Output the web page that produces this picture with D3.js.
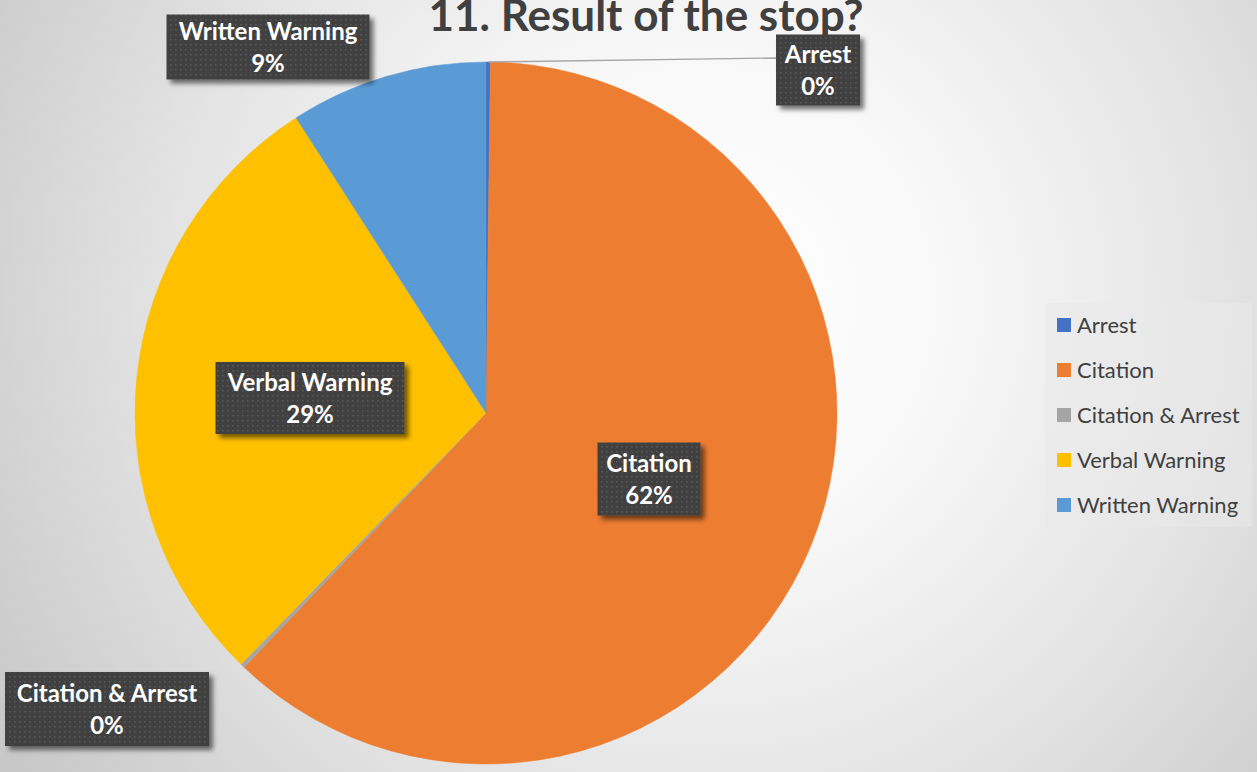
<!DOCTYPE html>
<html>
<head>
<meta charset="utf-8">
<script src="https://cdn.jsdelivr.net/npm/d3@7/dist/d3.min.js"></script>
<style>
  html, body { margin: 0; padding: 0; overflow: hidden; }
  svg { display: block; }
</style>
</head>
<body>
<svg id="chart" width="1257" height="772"></svg>
<script>
// Outcome shares of traffic stops (percent)
const categories = ["Arrest", "Citation", "Citation & Arrest", "Verbal Warning", "Written Warning"];
const shares = [0.2, 61.9, 0.2, 28.6, 9.1];
const colors = ["#4472C4", "#ED7D31", "#A5A5A5", "#FFC000", "#5B9BD5"];
const titleText = "11. Result of the stop?";

const W = 1257, H = 772;
const svg = d3.select("#chart");
const defs = svg.append("defs");

// Background: soft radial gradient
const bg = defs.append("radialGradient").attr("id", "bgGrad")
  .attr("gradientUnits", "userSpaceOnUse")
  .attr("cx", 700).attr("cy", 300).attr("r", 820);
[[0, "#ffffff"], [0.3, "#f8f8f8"], [0.65, "#e3e3e3"], [1, "#c8c8c8"]]
  .forEach(([o, c]) => bg.append("stop").attr("offset", o).attr("stop-color", c));
svg.append("rect").attr("width", W).attr("height", H).attr("fill", "url(#bgGrad)");

// Dotted dark fill for data labels
const pat = defs.append("pattern").attr("id", "dots")
  .attr("patternUnits", "userSpaceOnUse").attr("width", 5).attr("height", 5);
pat.append("rect").attr("width", 5).attr("height", 5).attr("fill", "#3f3f3f");
pat.append("rect").attr("x", 2).attr("y", 2).attr("width", 1.6).attr("height", 1.6).attr("fill", "#585858");

const shadow = defs.append("filter").attr("id", "shadow")
  .attr("x", "-20%").attr("y", "-20%").attr("width", "140%").attr("height", "160%");
shadow.append("feGaussianBlur").attr("in", "SourceAlpha").attr("stdDeviation", 2.5).attr("result", "b");
shadow.append("feOffset").attr("in", "b").attr("dx", 4).attr("dy", 4).attr("result", "o");
shadow.append("feComponentTransfer").attr("in", "o").attr("result", "s")
  .append("feFuncA").attr("type", "linear").attr("slope", 0.55);
const merge = shadow.append("feMerge");
merge.append("feMergeNode").attr("in", "s");
merge.append("feMergeNode").attr("in", "SourceGraphic");

// Title (sits high, running into the top edge)
svg.append("text")
  .attr("x", 646).attr("y", 31)
  .attr("text-anchor", "middle")
  .attr("font-family", "Lato, 'Open Sans', sans-serif")
  .attr("font-weight", "bold")
  .attr("font-size", 44)
  .attr("fill", "#404040")
  .text(titleText);

// Pie
const cx = 486, cy = 413, R = 351;
const data = categories.map((c, i) => ({ name: c, value: shares[i], color: colors[i] }));
const pie = d3.pie().value(d => d.value).sort(null);
const arcs = pie(data);
const arc = d3.arc().innerRadius(0).outerRadius(R);

const g = svg.append("g").attr("transform", `translate(${cx},${cy})`);
g.selectAll("path.slice").data(arcs).join("path")
  .attr("class", "slice")
  .attr("d", arc)
  .attr("fill", d => d.data.color)
  .attr("stroke", d => d.data.color)
  .attr("stroke-width", 0.5);

// Label box placement: centre x, centre y, width, height
const labelPos = {
  "Arrest": [818, 70, 84, 71],
  "Citation": [649, 479, 103, 73],
  "Citation & Arrest": [107, 709, 204, 74],
  "Verbal Warning": [310, 398, 189, 72],
  "Written Warning": [268, 47, 203, 65]
};

// Leader line for the thin Arrest slice
const arrestArc = arcs[0];
const midA = (arrestArc.startAngle + arrestArc.endAngle) / 2;
const ax = cx + R * Math.sin(midA), ay = cy - R * Math.cos(midA);
svg.append("line")
  .attr("x1", ax).attr("y1", ay)
  .attr("x2", labelPos["Arrest"][0] - labelPos["Arrest"][2] / 2).attr("y2", 58)
  .attr("stroke", "#a6a6a6").attr("stroke-width", 1.3);

const labels = svg.append("g").selectAll("g.lab").data(arcs).join("g")
  .attr("class", "lab")
  .attr("transform", d => {
    const p = labelPos[d.data.name];
    return `translate(${p[0]},${p[1]})`;
  });
labels.append("rect")
  .attr("x", d => -labelPos[d.data.name][2] / 2)
  .attr("y", d => -labelPos[d.data.name][3] / 2)
  .attr("width", d => labelPos[d.data.name][2])
  .attr("height", d => labelPos[d.data.name][3])
  .attr("fill", "url(#dots)")
  .attr("filter", "url(#shadow)");
const lt = labels.append("text")
  .attr("text-anchor", "middle")
  .attr("font-family", "Lato, 'Open Sans', sans-serif")
  .attr("font-weight", "bold")
  .attr("font-size", 24)
  .attr("fill", "#ffffff");
lt.append("tspan").attr("x", 0).attr("y", -7).text(d => d.data.name);
lt.append("tspan").attr("x", 0).attr("y", 25)
  .text(d => Math.round(d.data.value) + "%");

// Legend
const legend = svg.append("g").attr("transform", "translate(1045,303)");
legend.append("rect").attr("width", 207).attr("height", 224)
  .attr("fill", "#eaeaea").attr("fill-opacity", 0.55);
const items = legend.selectAll("g.item").data(data).join("g")
  .attr("class", "item")
  .attr("transform", (d, i) => `translate(12,${22 + i * 45})`);
items.append("rect").attr("x", 0).attr("y", -7).attr("width", 14).attr("height", 14)
  .attr("fill", d => d.color);
items.append("text").attr("x", 20).attr("y", 7.5)
  .attr("font-family", "Lato, 'Open Sans', sans-serif")
  .attr("font-size", 22)
  .attr("fill", "#404040")
  .text(d => d.name);
</script>
</body>
</html>
